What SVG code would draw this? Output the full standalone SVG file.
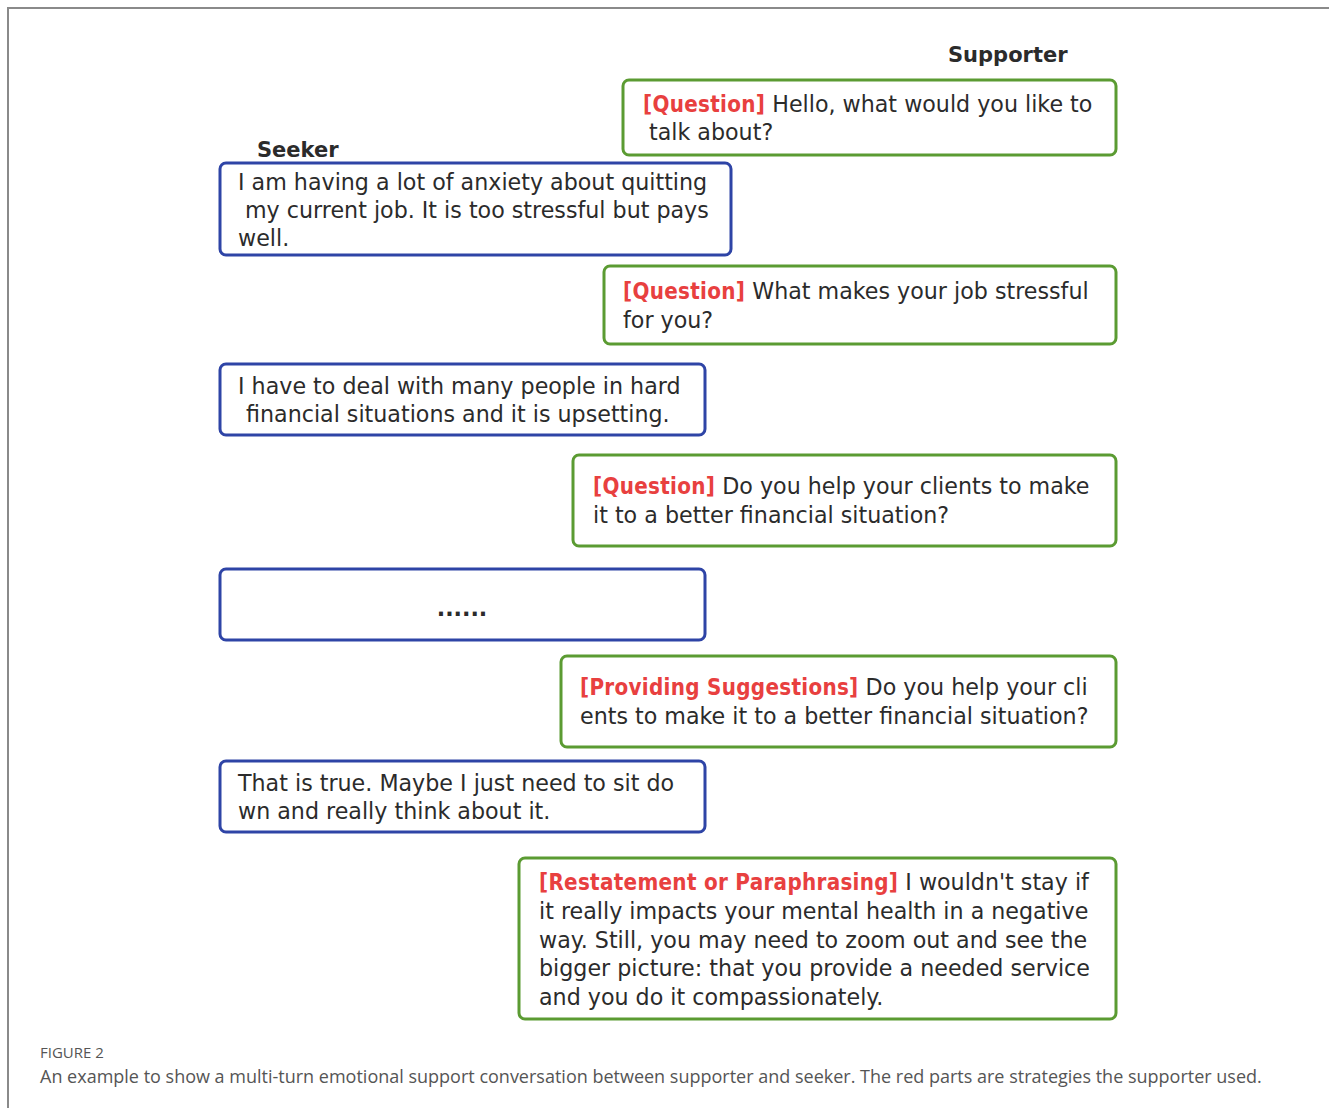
<svg xmlns="http://www.w3.org/2000/svg" width="1329" height="1108" viewBox="0 0 1329 1108">
<style>
.frame{fill:none;stroke:#8a8a8a;stroke-width:2}
.sup{fill:#fff;stroke:#5b9b32;stroke-width:3}
.seek{fill:#fff;stroke:#2e44a6;stroke-width:3}
.t{font-family:"DejaVu Sans",sans-serif;font-size:22.2px;fill:#2b2b2b}
.s{fill:#e8403f;font-weight:bold;font-family:"DejaVu Sans Condensed","DejaVu Sans",sans-serif;font-stretch:condensed;letter-spacing:0.3px}
.h{font-family:"DejaVu Sans",sans-serif;font-size:21px;font-weight:bold;fill:#2b2b2b}
.cap1{font-family:"Open Sans","Noto Sans",sans-serif;font-size:15px;fill:#555}
.cap2{font-family:"Open Sans","Noto Sans",sans-serif;font-size:18px;fill:#555}
</style>
<rect width="1329" height="1108" fill="#fff"/>
<path class="frame" d="M1329 8 H8 V1108"/>
<g id="labels">
<text class="h" x="948" y="62">Supporter</text>
<text class="h" x="257" y="157">Seeker</text>
</g>
<g id="connectors"></g>
<g id="s1"><rect class="sup" x="623" y="80" width="493" height="75" rx="6"/>
<text class="t"><tspan x="643" y="112"><tspan class="s">[Question]</tspan> Hello, what would you like to</tspan><tspan x="649" y="140">talk about?</tspan></text></g>
<g id="k1"><rect class="seek" x="220" y="163" width="511" height="92" rx="6"/>
<text class="t"><tspan x="238" y="190">I am having a lot of anxiety about quitting</tspan><tspan x="245" y="218">my current job. It is too stressful but pays</tspan><tspan x="238" y="246">well.</tspan></text></g>
<g id="s2"><rect class="sup" x="604" y="266" width="512" height="78" rx="6"/>
<text class="t"><tspan x="623" y="299"><tspan class="s">[Question]</tspan> What makes your job stressful</tspan><tspan x="623" y="328">for you?</tspan></text></g>
<g id="k2"><rect class="seek" x="220" y="364" width="485" height="71" rx="6"/>
<text class="t"><tspan x="238" y="394">I have to deal with many people in hard</tspan><tspan x="246" y="422">financial situations and it is upsetting.</tspan></text></g>
<g id="s3"><rect class="sup" x="573" y="455" width="543" height="91" rx="6"/>
<text class="t"><tspan x="593" y="494"><tspan class="s">[Question]</tspan> Do you help your clients to make</tspan><tspan x="593" y="523">it to a better financial situation?</tspan></text></g>
<g id="k3"><rect class="seek" x="220" y="569" width="485" height="71" rx="6"/>
<text class="t" x="462" y="616" text-anchor="middle" font-weight="bold">......</text></g>
<g id="s4"><rect class="sup" x="561" y="656" width="555" height="91" rx="6"/>
<text class="t"><tspan x="580" y="695"><tspan class="s">[Providing Suggestions]</tspan> Do you help your cli</tspan><tspan x="580" y="724">ents to make it to a better financial situation?</tspan></text></g>
<g id="k4"><rect class="seek" x="220" y="761" width="485" height="71" rx="6"/>
<text class="t"><tspan x="238" y="791">That is true. Maybe I just need to sit do</tspan><tspan x="238" y="819">wn and really think about it.</tspan></text></g>
<g id="s5"><rect class="sup" x="519" y="858" width="597" height="161" rx="6"/>
<text class="t"><tspan x="539" y="890"><tspan class="s">[Restatement or Paraphrasing]</tspan> I wouldn't stay if</tspan><tspan x="539" y="919">it really impacts your mental health in a negative</tspan><tspan x="539" y="948">way. Still, you may need to zoom out and see the</tspan><tspan x="539" y="976">bigger picture: that you provide a needed service</tspan><tspan x="539" y="1005">and you do it compassionately.</tspan></text></g>
<g id="caption">
<text class="cap1" x="40" y="1058">FIGURE 2</text>
<text class="cap2" x="40" y="1083">An example to show a multi-turn emotional support conversation between supporter and seeker. The red parts are strategies the supporter used.</text>
</g>
</svg>
